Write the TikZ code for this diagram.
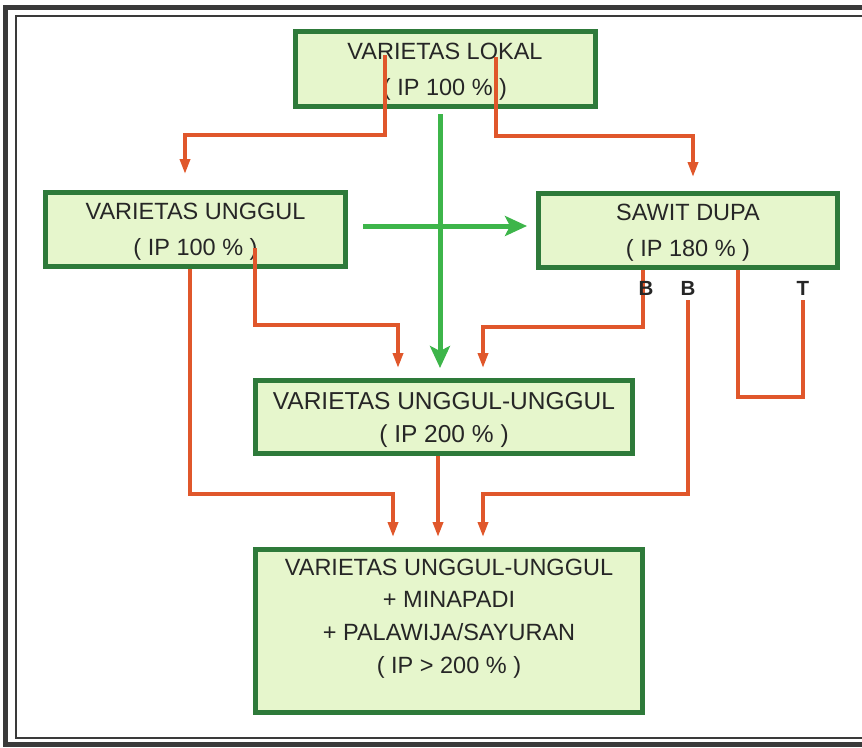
\documentclass[tikz,border=0pt]{standalone}
\usepackage{fontspec}
\setmainfont{Liberation Sans}
\usetikzlibrary{arrows.meta}
\definecolor{boxgreen}{HTML}{2E7A3A}
\definecolor{boxfill}{HTML}{E6F6CC}
\definecolor{org}{HTML}{E0572B}
\definecolor{grn}{HTML}{3DB54A}
\definecolor{txt}{HTML}{262626}
\definecolor{framec}{HTML}{3A3A3A}
\begin{document}
\begin{tikzpicture}[x=1pt,y=-1pt,
 box/.style={draw=boxgreen, fill=boxfill, line width=5pt, align=center, text=txt, font=\fontsize{23.5}{36}\selectfont, inner sep=0pt, text depth=-4pt},
 boxtext/.style={align=center, text=txt, font=\fontsize{23.5}{32.7}\selectfont, inner sep=0pt, text depth=-2pt},
 lbl/.style={font=\fontsize{20.5}{20.5}\selectfont\bfseries, text=txt, inner sep=1pt},
 oarr/.style={draw=org, line width=3.5pt, -{Triangle[length=15pt,width=10pt]}},
 oline/.style={draw=org, line width=3.5pt},
 garr/.style={draw=grn, line width=5pt, -{Stealth[length=22pt,width=20pt,inset=5pt]}},
]
\useasboundingbox (0,0) rectangle (862,747);
\draw[framec, line width=5pt] (5.5,7.5) rectangle (880,744.5);
\draw[framec, line width=1.4pt] (16,16) rectangle (875,738);

% boxes
\node[box, minimum width=300pt, minimum height=75pt] (lokal) at (445,69) {VARIETAS LOKAL\\( IP 100 \% )};
\node[box, minimum width=300pt, minimum height=74pt] (unggul) at (195.5,229.5) {VARIETAS UNGGUL\\( IP 100 \% )};
\node[box, minimum width=299pt, minimum height=74pt] (sawit) at (688,230.5) {SAWIT DUPA\\( IP 180 \% )};
\node[box, minimum width=377pt, minimum height=73pt, font=\fontsize{24.5}{33}\selectfont] (uu) at (444,417) {VARIETAS UNGGUL-UNGGUL\\( IP 200 \% )};
\node[box, minimum width=387pt, minimum height=163pt] (akhir) at (449,631) {};
\node[boxtext] (akhirtxt) at (449,616) {VARIETAS UNGGUL-UNGGUL\\+ MINAPADI\\+ PALAWIJA/SAYURAN\\( IP > 200 \% )};

% labels used as connector ends
\node[lbl] (B2) at (688,288) {B};
\node[lbl] (T) at (803,288) {T};

% helper coordinates
\coordinate (lokalA) at (385,55);
\coordinate (kA) at (185,135);
\coordinate (lokalB) at (496,57);
\coordinate (kB) at (693,136);
\coordinate (gx) at (440,0);
\coordinate (gy) at (0,226);
\coordinate (unggulA) at (255,248);
\coordinate (kC) at (398,325);
\coordinate (xD) at (190,0);
\coordinate (kD) at (393,494);
\coordinate (xE) at (643,0);
\coordinate (kE) at (483,327);
\coordinate (kF) at (483,494);
\coordinate (xU) at (438,0);
\coordinate (xG) at (738,0);
\coordinate (kG) at (803,397);

% orange connectors
\draw[oarr, shorten >=16pt] (lokalA) |- (kA) -- (kA |- unggul.north);
\draw[oarr, shorten >=14pt] (lokalB) |- (kB) -- (kB |- sawit.north);
\draw[oarr, shorten >=10pt] (unggulA) |- (kC) -- (kC |- uu.north);
\draw[oarr, shorten >=10pt] (unggul.south -| xD) |- (kD) -- (kD |- akhir.north);
\draw[oarr, shorten >=10pt] (sawit.south -| xE) |- (kE) -- (kE |- uu.north);
\draw[oarr, shorten >=10pt] ([yshift=-4pt]B2.south) |- (kF) -- (kF |- akhir.north);
\draw[oarr, shorten >=10pt] (uu.south -| xU) -- (akhir.north -| xU);
\draw[oline] (sawit.south -| xG) |- (kG) -- ([yshift=-4pt]T.south);

% green connectors
\draw[garr, shorten <=5pt, shorten >=10pt] (lokal.south -| gx) -- (uu.north -| gx);
\draw[garr, shorten <=15pt, shorten >=9pt] (unggul.east |- gy) -- (sawit.west |- gy);

% label drawn over its line
\node[lbl] (B1) at (646,288) {B};
\end{tikzpicture}
\end{document}
